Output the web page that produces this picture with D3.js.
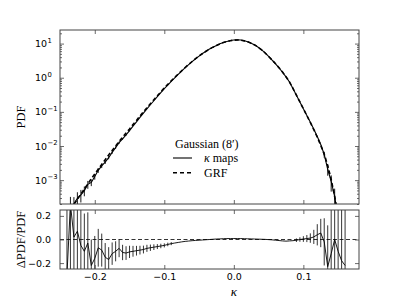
<!DOCTYPE html>
<html>
<head>
<meta charset="utf-8">
<script src="https://cdn.jsdelivr.net/npm/d3@7"></script>
<style>
  html, body { margin: 0; padding: 0; background: #fff; }
  svg { display: block; }
</style>
</head>
<body>
<svg id="chart" width="399" height="299"></svg>
<script>
// ---------------- data ----------------
const kappa = [
  -0.240, -0.235, -0.230, -0.225, -0.220, -0.215, -0.210, -0.205, -0.200, -0.195,
  -0.190, -0.185, -0.180, -0.175, -0.170, -0.165, -0.160, -0.155, -0.150, -0.145,
  -0.140, -0.135, -0.130, -0.125, -0.120, -0.115, -0.110, -0.105, -0.100, -0.095,
  -0.090, -0.085, -0.080, -0.075, -0.070, -0.065, -0.060, -0.055, -0.050, -0.045,
  -0.040, -0.035, -0.030, -0.025, -0.020, -0.015, -0.010, -0.005, 0.000, 0.005,
  0.010, 0.015, 0.020, 0.025, 0.030, 0.035, 0.040, 0.045, 0.050, 0.055,
  0.060, 0.065, 0.070, 0.075, 0.080, 0.085, 0.090, 0.095, 0.100, 0.105,
  0.110, 0.115, 0.120, 0.125, 0.130, 0.135, 0.140, 0.145, 0.150, 0.155,
  0.160
];
// log10 of the GRF PDF at each kappa
const grfLog10 = [
  -4.02, -3.86, -3.71, -3.56, -3.41, -3.26, -3.11, -2.96, -2.82, -2.68,
  -2.54, -2.40, -2.26, -2.13, -2.00, -1.87, -1.74, -1.62, -1.50, -1.37,
  -1.25, -1.12, -1.00, -0.88, -0.76, -0.645, -0.53, -0.415, -0.30, -0.195,
  -0.09, 0.01, 0.11, 0.205, 0.30, 0.39, 0.475, 0.56, 0.635, 0.71,
  0.775, 0.84, 0.895, 0.945, 0.99, 1.03, 1.06, 1.085, 1.10, 1.105,
  1.10, 1.08, 1.05, 1.01, 0.96, 0.89, 0.815, 0.725, 0.625, 0.52,
  0.41, 0.29, 0.165, 0.03, -0.12, -0.31, -0.51, -0.71, -0.91, -1.11,
  -1.31, -1.52, -1.74, -1.98, -2.24, -2.57, -2.98, -3.48, -4.05, -4.70,
  -5.40
];
// (PDF_kappa - PDF_GRF) / PDF_GRF
const residual = [
  -0.30, 0.30, 0.02, 0.07, -0.05, -0.10, -0.03, -0.22, -0.16, -0.07,
  -0.09, -0.15, -0.17, -0.12, -0.10, -0.075, -0.11, -0.115, -0.105, -0.10,
  -0.095, -0.09, -0.085, -0.075, -0.07, -0.065, -0.06, -0.055, -0.05, -0.042,
  -0.035, -0.03, -0.025, -0.02, -0.016, -0.013, -0.01, -0.008, -0.006, -0.004,
  -0.002, 0.0, 0.002, 0.004, 0.005, 0.007, 0.008, 0.008, 0.008, 0.008,
  0.008, 0.007, 0.006, 0.005, 0.004, 0.003, 0.002, 0.001, -0.001, -0.003,
  -0.006, -0.009, -0.012, -0.014, -0.012, -0.010, -0.006, 0.0, 0.004, 0.008,
  0.012, 0.022, 0.040, 0.055, -0.02, -0.23, -0.12, 0.00, -0.10, -0.18,
  -0.22
];
// fractional 1-sigma error of the kappa-map PDF
const relError = [
  1.0, 0.8, 0.6, 0.5, 0.4, 0.32, 0.26, 0.22, 0.19, 0.16,
  0.14, 0.12, 0.105, 0.095, 0.085, 0.075, 0.065, 0.058, 0.052, 0.046,
  0.041, 0.037, 0.033, 0.030, 0.027, 0.024, 0.021, 0.019, 0.017, 0.015,
  0.013, 0.011, 0.010, 0.009, 0.008, 0.007, 0.006, 0.006, 0.005, 0.005,
  0.005, 0.004, 0.004, 0.004, 0.004, 0.004, 0.004, 0.004, 0.004, 0.004,
  0.004, 0.004, 0.004, 0.004, 0.004, 0.005, 0.005, 0.005, 0.005, 0.006,
  0.006, 0.007, 0.008, 0.009, 0.010, 0.012, 0.015, 0.019, 0.024, 0.030,
  0.040, 0.060, 0.090, 0.120, 0.20, 0.35, 0.50, 0.70, 0.90, 1.20,
  1.50
];
const xTicks = [-0.2, -0.1, 0.0, 0.1];
const xTickLabels = ["\u22120.2", "\u22120.1", "0.0", "0.1"];
const yTopExponents = [-3, -2, -1, 0, 1];
const yBottomTicks = [-0.2, 0.0, 0.2];
const yBottomLabels = ["\u22120.2", "0.0", "0.2"];
const legendTitle = "Gaussian (8\u2032)";
const seriesNames = ["maps", "GRF"];

// ---------------- layout ----------------
const svg = d3.select("#chart");
const L = 60, R = 359;
const top1 = 30, bot1 = 204, top2 = 210, bot2 = 269;
const frameColor = "#444";
const sansFont = "'DejaVu Sans', sans-serif";
const serifFont = "'Liberation Serif', 'DejaVu Serif', serif";

const x = d3.scaleLinear().domain([-0.25, 0.18]).range([L, R]);
const yTop = d3.scaleLog().domain([2e-4, 25]).range([bot1, top1]);
const yBot = d3.scaleLinear().domain([-0.25, 0.25]).range([bot2, top2]);

const rows = kappa.map((k, i) => {
  const grf = Math.pow(10, grfLog10[i]);
  const maps = grf * (1 + residual[i]);
  return { k, grf, maps, res: residual[i], err: relError[i] };
});

const defs = svg.append("defs");
defs.append("clipPath").attr("id", "clipTop").append("rect")
  .attr("x", L).attr("y", top1).attr("width", R - L).attr("height", bot1 - top1);
defs.append("clipPath").attr("id", "clipBot").append("rect")
  .attr("x", L).attr("y", top2).attr("width", R - L).attr("height", bot2 - top2);

// ---------------- top panel ----------------
const gTop = svg.append("g").attr("clip-path", "url(#clipTop)");
const safeY = v => v > 0 ? yTop(v) : bot1 + 50;

// error bars
gTop.selectAll("line.eb").data(rows.filter(d => d.k < -0.145 || d.k > 0.125)).enter()
  .append("line")
  .attr("x1", d => x(d.k)).attr("x2", d => x(d.k))
  .attr("y1", d => safeY(d.maps * (1 + d.err)))
  .attr("y2", d => safeY(d.maps * (1 - d.err)))
  .attr("stroke", "#000").attr("stroke-width", 0.9);

const lineTop = key => d3.line().x(d => x(d.k)).y(d => safeY(d[key]));
gTop.append("path").datum(rows).attr("d", lineTop("maps"))
  .attr("fill", "none").attr("stroke", "#000").attr("stroke-width", 1.1);
gTop.append("path").datum(rows).attr("d", lineTop("grf"))
  .attr("fill", "none").attr("stroke", "#000").attr("stroke-width", 1.6)
  .attr("stroke-dasharray", "4,2.5");

// ---------------- bottom panel ----------------
const gBot = svg.append("g").attr("clip-path", "url(#clipBot)");
gBot.append("line")
  .attr("x1", L).attr("x2", R).attr("y1", yBot(0)).attr("y2", yBot(0))
  .attr("stroke", "#333").attr("stroke-width", 1).attr("stroke-dasharray", "4,2.5");
gBot.selectAll("line.eb").data(rows.filter(d => d.err > 0.012)).enter()
  .append("line")
  .attr("x1", d => x(d.k)).attr("x2", d => x(d.k))
  .attr("y1", d => yBot(d.res + d.err)).attr("y2", d => yBot(d.res - d.err))
  .attr("stroke", "#000").attr("stroke-width", 0.8);
gBot.append("path").datum(rows)
  .attr("d", d3.line().x(d => x(d.k)).y(d => yBot(d.res)))
  .attr("fill", "none").attr("stroke", "#000").attr("stroke-width", 0.9);

// ---------------- axes ----------------
function frame(t, b) {
  svg.append("rect").attr("x", L).attr("y", t).attr("width", R - L).attr("height", b - t)
    .attr("fill", "none").attr("stroke", frameColor).attr("stroke-width", 1);
}
function styleAxis(g) {
  g.select(".domain").remove();
  g.selectAll(".tick line").attr("stroke", frameColor).attr("stroke-width", 0.8);
  g.selectAll("text").attr("font-family", sansFont).attr("font-size", 9.5).attr("fill", "#000");
}

// top panel x ticks (no labels)
styleAxis(svg.append("g").attr("transform", `translate(0,${bot1})`)
  .call(d3.axisBottom(x).tickValues(xTicks).tickSize(-4).tickFormat("")));
styleAxis(svg.append("g").attr("transform", `translate(0,${top1})`)
  .call(d3.axisTop(x).tickValues(xTicks).tickSize(-4).tickFormat("")));

// top panel y ticks (major + minor)
const majors = yTopExponents.map(e => Math.pow(10, e));
const minors = [];
for (let e = -4; e <= 1; e++) for (let m = 2; m <= 9; m++) {
  const v = m * Math.pow(10, e);
  if (v >= 2e-4 && v <= 25) minors.push(v);
}
[["left", L], ["right", R]].forEach(([side, xx]) => {
  const mk = () => side === "left" ? d3.axisLeft(yTop) : d3.axisRight(yTop);
  styleAxis(svg.append("g").attr("transform", `translate(${xx},0)`)
    .call(mk().tickValues(majors).tickSize(-4).tickFormat("")));
  styleAxis(svg.append("g").attr("transform", `translate(${xx},0)`)
    .call(mk().tickValues(minors).tickSize(-2).tickFormat("")));
});
// log labels 10^n
const yLab = svg.append("g");
yTopExponents.forEach(e => {
  yLab.append("text")
    .attr("x", 47).attr("y", yTop(Math.pow(10, e)) + 3.5)
    .attr("text-anchor", "end")
    .attr("font-family", sansFont).attr("font-size", 9.5).attr("fill", "#000")
    .text("10");
  yLab.append("text")
    .attr("x", 47.5).attr("y", yTop(Math.pow(10, e)) - 1)
    .attr("font-family", sansFont).attr("font-size", 6.8).attr("fill", "#000")
    .text(e < 0 ? "\u2212" + Math.abs(e) : String(e));
});

// bottom panel axes
const xb = svg.append("g").attr("transform", `translate(0,${bot2})`)
  .call(d3.axisBottom(x).tickValues(xTicks).tickSize(-4).tickPadding(4)
    .tickFormat((d, i) => xTickLabels[i]));
styleAxis(xb);
styleAxis(svg.append("g").attr("transform", `translate(0,${top2})`)
  .call(d3.axisTop(x).tickValues(xTicks).tickSize(-4).tickFormat("")));
const yb = svg.append("g").attr("transform", `translate(${L},0)`)
  .call(d3.axisLeft(yBot).tickValues(yBottomTicks).tickSize(-4).tickPadding(9)
    .tickFormat((d, i) => yBottomLabels[i]));
styleAxis(yb);
styleAxis(svg.append("g").attr("transform", `translate(${R},0)`)
  .call(d3.axisRight(yBot).tickValues(yBottomTicks).tickSize(-4).tickFormat("")));

frame(top1, bot1);
frame(top2, bot2);

// axis titles
svg.append("text").attr("transform", `translate(25,${(top1 + bot1) / 2}) rotate(-90)`)
  .attr("text-anchor", "middle").attr("font-family", serifFont).attr("font-size", 12.5)
  .text("PDF");
svg.append("text").attr("transform", `translate(25,${(top2 + bot2) / 2}) rotate(-90)`)
  .attr("text-anchor", "middle").attr("font-family", serifFont).attr("font-size", 12.5)
  .text("\u0394PDF/PDF");
svg.append("text").attr("x", x(0)).attr("y", 296)
  .attr("text-anchor", "middle").attr("font-family", serifFont).attr("font-size", 13)
  .attr("font-style", "italic").text("\u03ba");

// legend
const lg = svg.append("g");
lg.append("text").attr("x", 175).attr("y", 147.5)
  .attr("font-family", serifFont).attr("font-size", 12).text(legendTitle);
lg.append("line").attr("x1", 173).attr("x2", 192).attr("y1", 158).attr("y2", 158)
  .attr("stroke", "#000").attr("stroke-width", 1.1);
lg.append("line").attr("x1", 173).attr("x2", 192).attr("y1", 172.7).attr("y2", 172.7)
  .attr("stroke", "#000").attr("stroke-width", 1.6).attr("stroke-dasharray", "4,3");
const t1 = lg.append("text").attr("x", 204).attr("y", 161.5)
  .attr("font-family", serifFont).attr("font-size", 12);
t1.append("tspan").attr("font-style", "italic").text("\u03ba");
t1.append("tspan").attr("dx", 3).text(seriesNames[0]);
lg.append("text").attr("x", 204).attr("y", 176.5)
  .attr("font-family", serifFont).attr("font-size", 12).text(seriesNames[1]);
</script>
</body>
</html>
